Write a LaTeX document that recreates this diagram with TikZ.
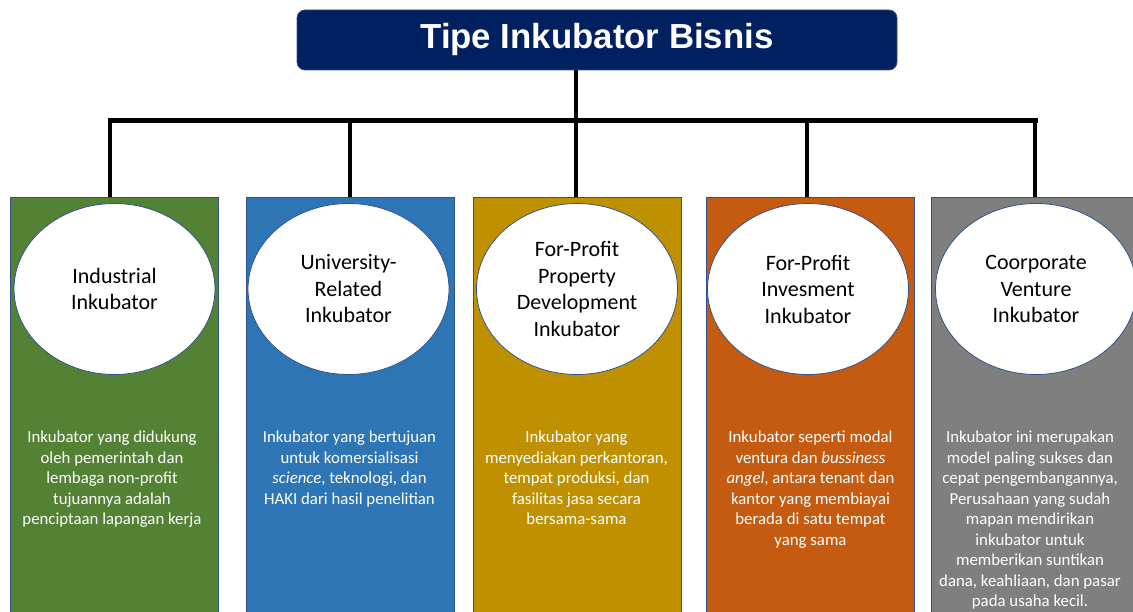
\documentclass[tikz,border=0pt]{standalone}
\usepackage{fontspec}
\setmainfont{Carlito}
\newfontfamily\headfont{Liberation Sans}
\usetikzlibrary{shapes.geometric}
\definecolor{navy}{HTML}{002060}
\definecolor{edge}{HTML}{2F528F}
\definecolor{cgreen}{HTML}{548235}
\definecolor{cblue}{HTML}{2E75B6}
\definecolor{cgold}{HTML}{BF9000}
\definecolor{corange}{HTML}{C55A11}
\definecolor{cgray}{HTML}{7F7F7F}

\begin{document}
\begin{tikzpicture}[x=1pt,y=-1pt,
  column/.style={draw=edge, line width=0.8pt, minimum width=208pt, minimum height=420pt, anchor=north, inner sep=0pt},
  oval/.style={ellipse, draw=edge, line width=0.8pt, fill=white, minimum width=201pt, minimum height=171pt, inner sep=0pt, align=center, font=\fontsize{22}{26.5}\selectfont},
  desc/.style={anchor=north, align=center, text=white, inner sep=0pt, font=\fontsize{16.8}{20.5}\selectfont},
  link/.style={line width=4.5pt, black},
  bar/.style={line width=5pt, black, line cap=rect}
]
\useasboundingbox (0,0) rectangle (1133,612);
\clip (0,0) rectangle (1133,612);

% heading
\node[fill=navy, draw=edge, line width=0.8pt, rounded corners=8pt, minimum width=600pt, minimum height=60pt, inner sep=0pt,
      text=white, font=\headfont\bfseries\fontsize{34.8}{40}\selectfont] (title) at (597,40) {Tipe Inkubator Bisnis};

% coloured columns
\node[column, fill=cgreen]  (b1) at (114,197) {};
\node[column, fill=cblue]   (b2) at (350,197) {};
\node[column, fill=cgold]   (b3) at (577.5,197) {};
\node[column, fill=corange] (b4) at (810,197) {};
\node[column, fill=cgray]   (b5) at (1035,197) {};

% tree connectors
\draw[link] ([xshift=-21pt]title.south) -- ([xshift=-21pt]title.south |- 0,121);
\draw[bar] ([xshift=-4pt]b1.north |- 0,121) -- (b5.north |- 0,121);
\draw[link] ([xshift=-4pt]b1.north |- 0,121) -- ([xshift=-4pt]b1.north);
\draw[link] (b2.north |- 0,121) -- (b2.north);
\draw[link] ([xshift=-1.5pt]b3.north |- 0,121) -- ([xshift=-1.5pt]b3.north);
\draw[link] ([xshift=-3pt]b4.north |- 0,121) -- ([xshift=-3pt]b4.north);
\draw[link] (b5.north |- 0,121) -- (b5.north);

% type names
\node[oval] (e1) at (114.5,289) {Industrial\\Inkubator};
\node[oval] (e2) at (348.5,289) {University-\\Related\\Inkubator};
\node[oval] (e3) at (577,289) {For-Profit\\Property\\Development\\Inkubator};
\node[oval] (e4) at (808,289) {For-Profit\\Invesment\\Inkubator};
\node[oval] (e5) at (1036,289) {Coorporate\\Venture\\Inkubator};

% descriptions
\node[desc] (d1) at (112,431) {Inkubator yang didukung\\oleh pemerintah dan\\lembaga non-profit\\tujuannya adalah\\penciptaan lapangan kerja};
\node[desc] (d2) at (349.5,431) {Inkubator yang bertujuan\\untuk komersialisasi\\\textit{science}, teknologi, dan\\HAKI dari hasil penelitian};
\node[desc] (d3) at (576.5,431) {Inkubator yang\\menyediakan perkantoran,\\tempat produksi, dan\\fasilitas jasa secara\\bersama-sama};
\node[desc] (d4) at (810.5,431) {Inkubator seperti modal\\ventura dan \textit{bussiness}\\\textit{angel}, antara tenant dan\\kantor yang membiayai\\berada di satu tempat\\yang sama};
\node[desc] (d5) at (1030,431) {Inkubator ini merupakan\\model paling sukses dan\\cepat pengembangannya,\\Perusahaan yang sudah\\mapan mendirikan\\inkubator untuk\\memberikan suntikan\\dana, keahliaan, dan pasar\\pada usaha kecil.};
\end{tikzpicture}
\end{document}
